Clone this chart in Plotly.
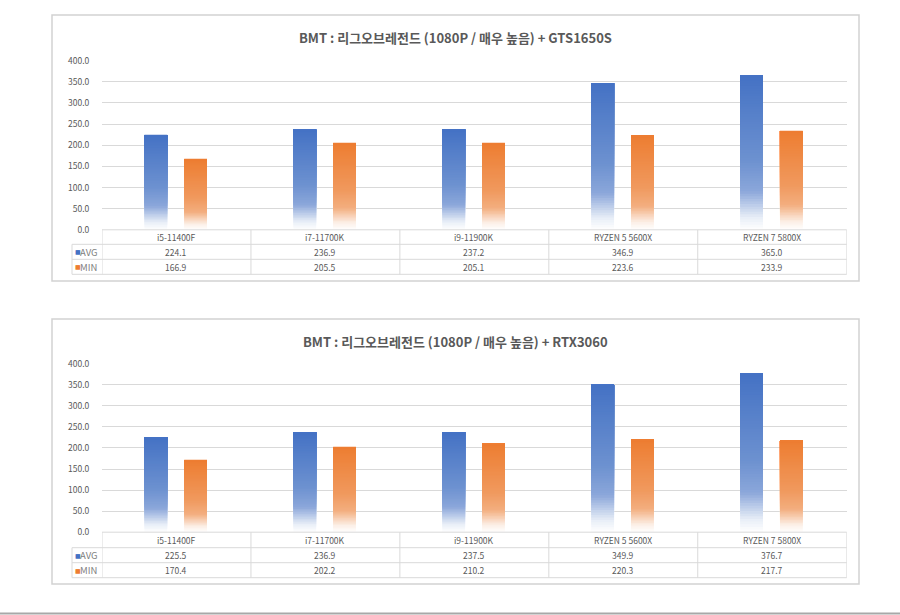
import plotly.graph_objects as go

# ---------------- data ----------------
categories = ["i5-11400F", "i7-11700K", "i9-11900K", "RYZEN 5 5600X", "RYZEN 7 5800X"]
series_names = ["AVG", "MIN"]

title1 = "BMT : 리그오브레전드 (1080P / 매우 높음) + GTS1650S"
avg1 = [224.1, 236.9, 237.2, 346.9, 365.0]
min1 = [166.9, 205.5, 205.1, 223.6, 233.9]

title2 = "BMT : 리그오브레전드 (1080P / 매우 높음) + RTX3060"
avg2 = [225.5, 236.9, 237.5, 349.9, 376.7]
min2 = [170.4, 202.2, 210.2, 220.3, 217.7]

y_ticks = [0, 50, 100, 150, 200, 250, 300, 350, 400]

# ---------------- style ----------------
W, H = 900, 615
FONT = "Noto Sans CJK KR"
TXT = "#595959"
GRID = "#d9d9d9"
BLUE = (68, 114, 196)
ORANGE = (237, 125, 49)
N_SEG = 60


def px(x):
    return x / W


def py(y):
    return 1 - y / H


def grad(frac, top):
    stops = [
        (0.0, (255, 255, 255)),
        (0.08, tuple(int(255 - (255 - c) * 0.12) for c in top)),
        (0.25, tuple(int(255 - (255 - c) * 0.62) for c in top)),
        (0.45, tuple(int(255 - (255 - c) * 0.78) for c in top)),
        (1.0, top),
    ]
    for (f0, c0), (f1, c1) in zip(stops[:-1], stops[1:]):
        if f0 <= frac <= f1:
            t = (frac - f0) / (f1 - f0)
            c = [round(a + (b - a) * t) for a, b in zip(c0, c1)]
            return "rgb(%d,%d,%d)" % tuple(c)
    return "rgb(%d,%d,%d)" % top


fig = go.Figure()
shapes = []
annotations = []

charts = [
    dict(title=title1, avg=avg1, mn=min1, frame=(52, 15, 859, 281), title_y=38,
         top=60.7, zero=229.8, rows=(244.3, 259.3, 274.3)),
    dict(title=title2, avg=avg2, mn=min2, frame=(52, 319, 859, 584), title_y=341,
         top=363.7, zero=532.2, rows=(547.7, 562.7, 577.7)),
]

X0, X1 = 102.0, 846.7
BAR_W = 0.153
OFFS = [-0.215, 0.052]
COLORS = [BLUE, ORANGE]

for i, ch in enumerate(charts):
    xa = "x" if i == 0 else "x2"
    ya = "y" if i == 0 else "y2"
    ax_suffix = "" if i == 0 else "2"

    for s, vals in enumerate([ch["avg"], ch["mn"]]):
        for k in range(N_SEG):
            col = grad((k + 0.5) / N_SEG, COLORS[s])
            fig.add_trace(go.Bar(
                x=categories,
                y=[v * (1 - k / N_SEG) for v in vals],
                base=[v * k / N_SEG for v in vals],
                width=BAR_W, offset=OFFS[s],
                marker=dict(color=col, line=dict(width=0)),
                xaxis=xa, yaxis=ya, showlegend=False,
                hoverinfo="skip",
            ))

    fig.layout["xaxis" + ax_suffix] = dict(
        domain=[px(X0), px(X1)], range=[-0.5, len(categories) - 0.5],
        showticklabels=False, showgrid=False, zeroline=False, showline=False,
        anchor=ya, fixedrange=True, automargin=False,
    )
    fig.layout["yaxis" + ax_suffix] = dict(
        domain=[py(ch["zero"]), py(ch["top"])], range=[0, 400],
        tickvals=y_ticks, ticktext=["%.1f" % t for t in y_ticks],
        ticks="outside", ticklen=10, tickcolor="rgba(0,0,0,0)",
        tickfont=dict(family=FONT, size=8.5, color=TXT),
        showgrid=True, gridcolor=GRID, gridwidth=1,
        zeroline=False, showline=False, anchor=xa, fixedrange=True, automargin=False,
    )

    fx0, fy0, fx1, fy1 = ch["frame"]
    shapes.append(dict(type="rect", xref="paper", yref="paper",
                       x0=px(fx0), x1=px(fx1), y0=py(fy1), y1=py(fy0),
                       line=dict(color="#d2d2d2", width=1.5), layer="below"))

    annotations.append(dict(text="<b>" + ch["title"] + "</b>", xref="paper", yref="paper",
                            x=px(455), y=py(ch["title_y"]), showarrow=False,
                            xanchor="center", yanchor="middle",
                            font=dict(family=FONT, size=13, color=TXT)))

    zero = ch["zero"]
    r1, r2, r3 = ch["rows"]
    lc = dict(color=GRID, width=1)
    shapes.append(dict(type="line", xref="paper", yref="paper",
                       x0=px(X0), x1=px(X1), y0=py(zero), y1=py(zero), line=lc))
    for yy in (r1, r2, r3):
        shapes.append(dict(type="line", xref="paper", yref="paper",
                           x0=px(72), x1=px(X1), y0=py(yy), y1=py(yy), line=lc))
    shapes.append(dict(type="line", xref="paper", yref="paper",
                       x0=px(72), x1=px(72), y0=py(r1), y1=py(r3), line=lc))
    for b in range(len(categories) + 1):
        shapes.append(dict(type="line", xref=xa, yref="paper",
                           x0=b - 0.5, x1=b - 0.5, y0=py(zero), y1=py(r3), line=lc))

    rows_y = [(zero + r1) / 2, (r1 + r2) / 2, (r2 + r3) / 2]
    for c, cat in enumerate(categories):
        annotations.append(dict(text=cat, xref=xa, yref="paper", x=c, y=py(rows_y[0]),
                                showarrow=False, xanchor="center", yanchor="middle",
                                font=dict(family=FONT, size=8.5, color=TXT)))
        for s, vals in enumerate([ch["avg"], ch["mn"]]):
            annotations.append(dict(text="%.1f" % vals[c], xref=xa, yref="paper", x=c,
                                    y=py(rows_y[s + 1]), showarrow=False,
                                    xanchor="center", yanchor="middle",
                                    font=dict(family=FONT, size=8.5, color=TXT)))
    for s, name in enumerate(series_names):
        annotations.append(dict(text="■", xref="paper", yref="paper", x=px(72.5),
                                y=py(rows_y[s + 1]), showarrow=False,
                                xanchor="left", yanchor="middle",
                                font=dict(family="DejaVu Sans", size=6,
                                          color="rgb(%d,%d,%d)" % COLORS[s])))
        annotations.append(dict(text=name, xref="paper", yref="paper", x=px(78),
                                y=py(rows_y[s + 1]), showarrow=False,
                                xanchor="left", yanchor="middle",
                                font=dict(family=FONT, size=9.5, color="#7f7f7f")))

shapes.append(dict(type="line", xref="paper", yref="paper", x0=0, x1=1,
                   y0=py(613.5), y1=py(613.5), line=dict(color="#a8a8a8", width=2)))

fig.update_layout(
    template="none",
    width=W, height=H, margin=dict(l=0, r=0, t=0, b=0, pad=0, autoexpand=False),
    paper_bgcolor="white", plot_bgcolor="white",
    barmode="overlay", showlegend=False,
    shapes=shapes, annotations=annotations,
    font=dict(family=FONT, color=TXT),
)

fig.write_html("out.html", config={"displayModeBar": False},
               post_script="document.body.style.margin='0';document.body.style.overflow='hidden';")
